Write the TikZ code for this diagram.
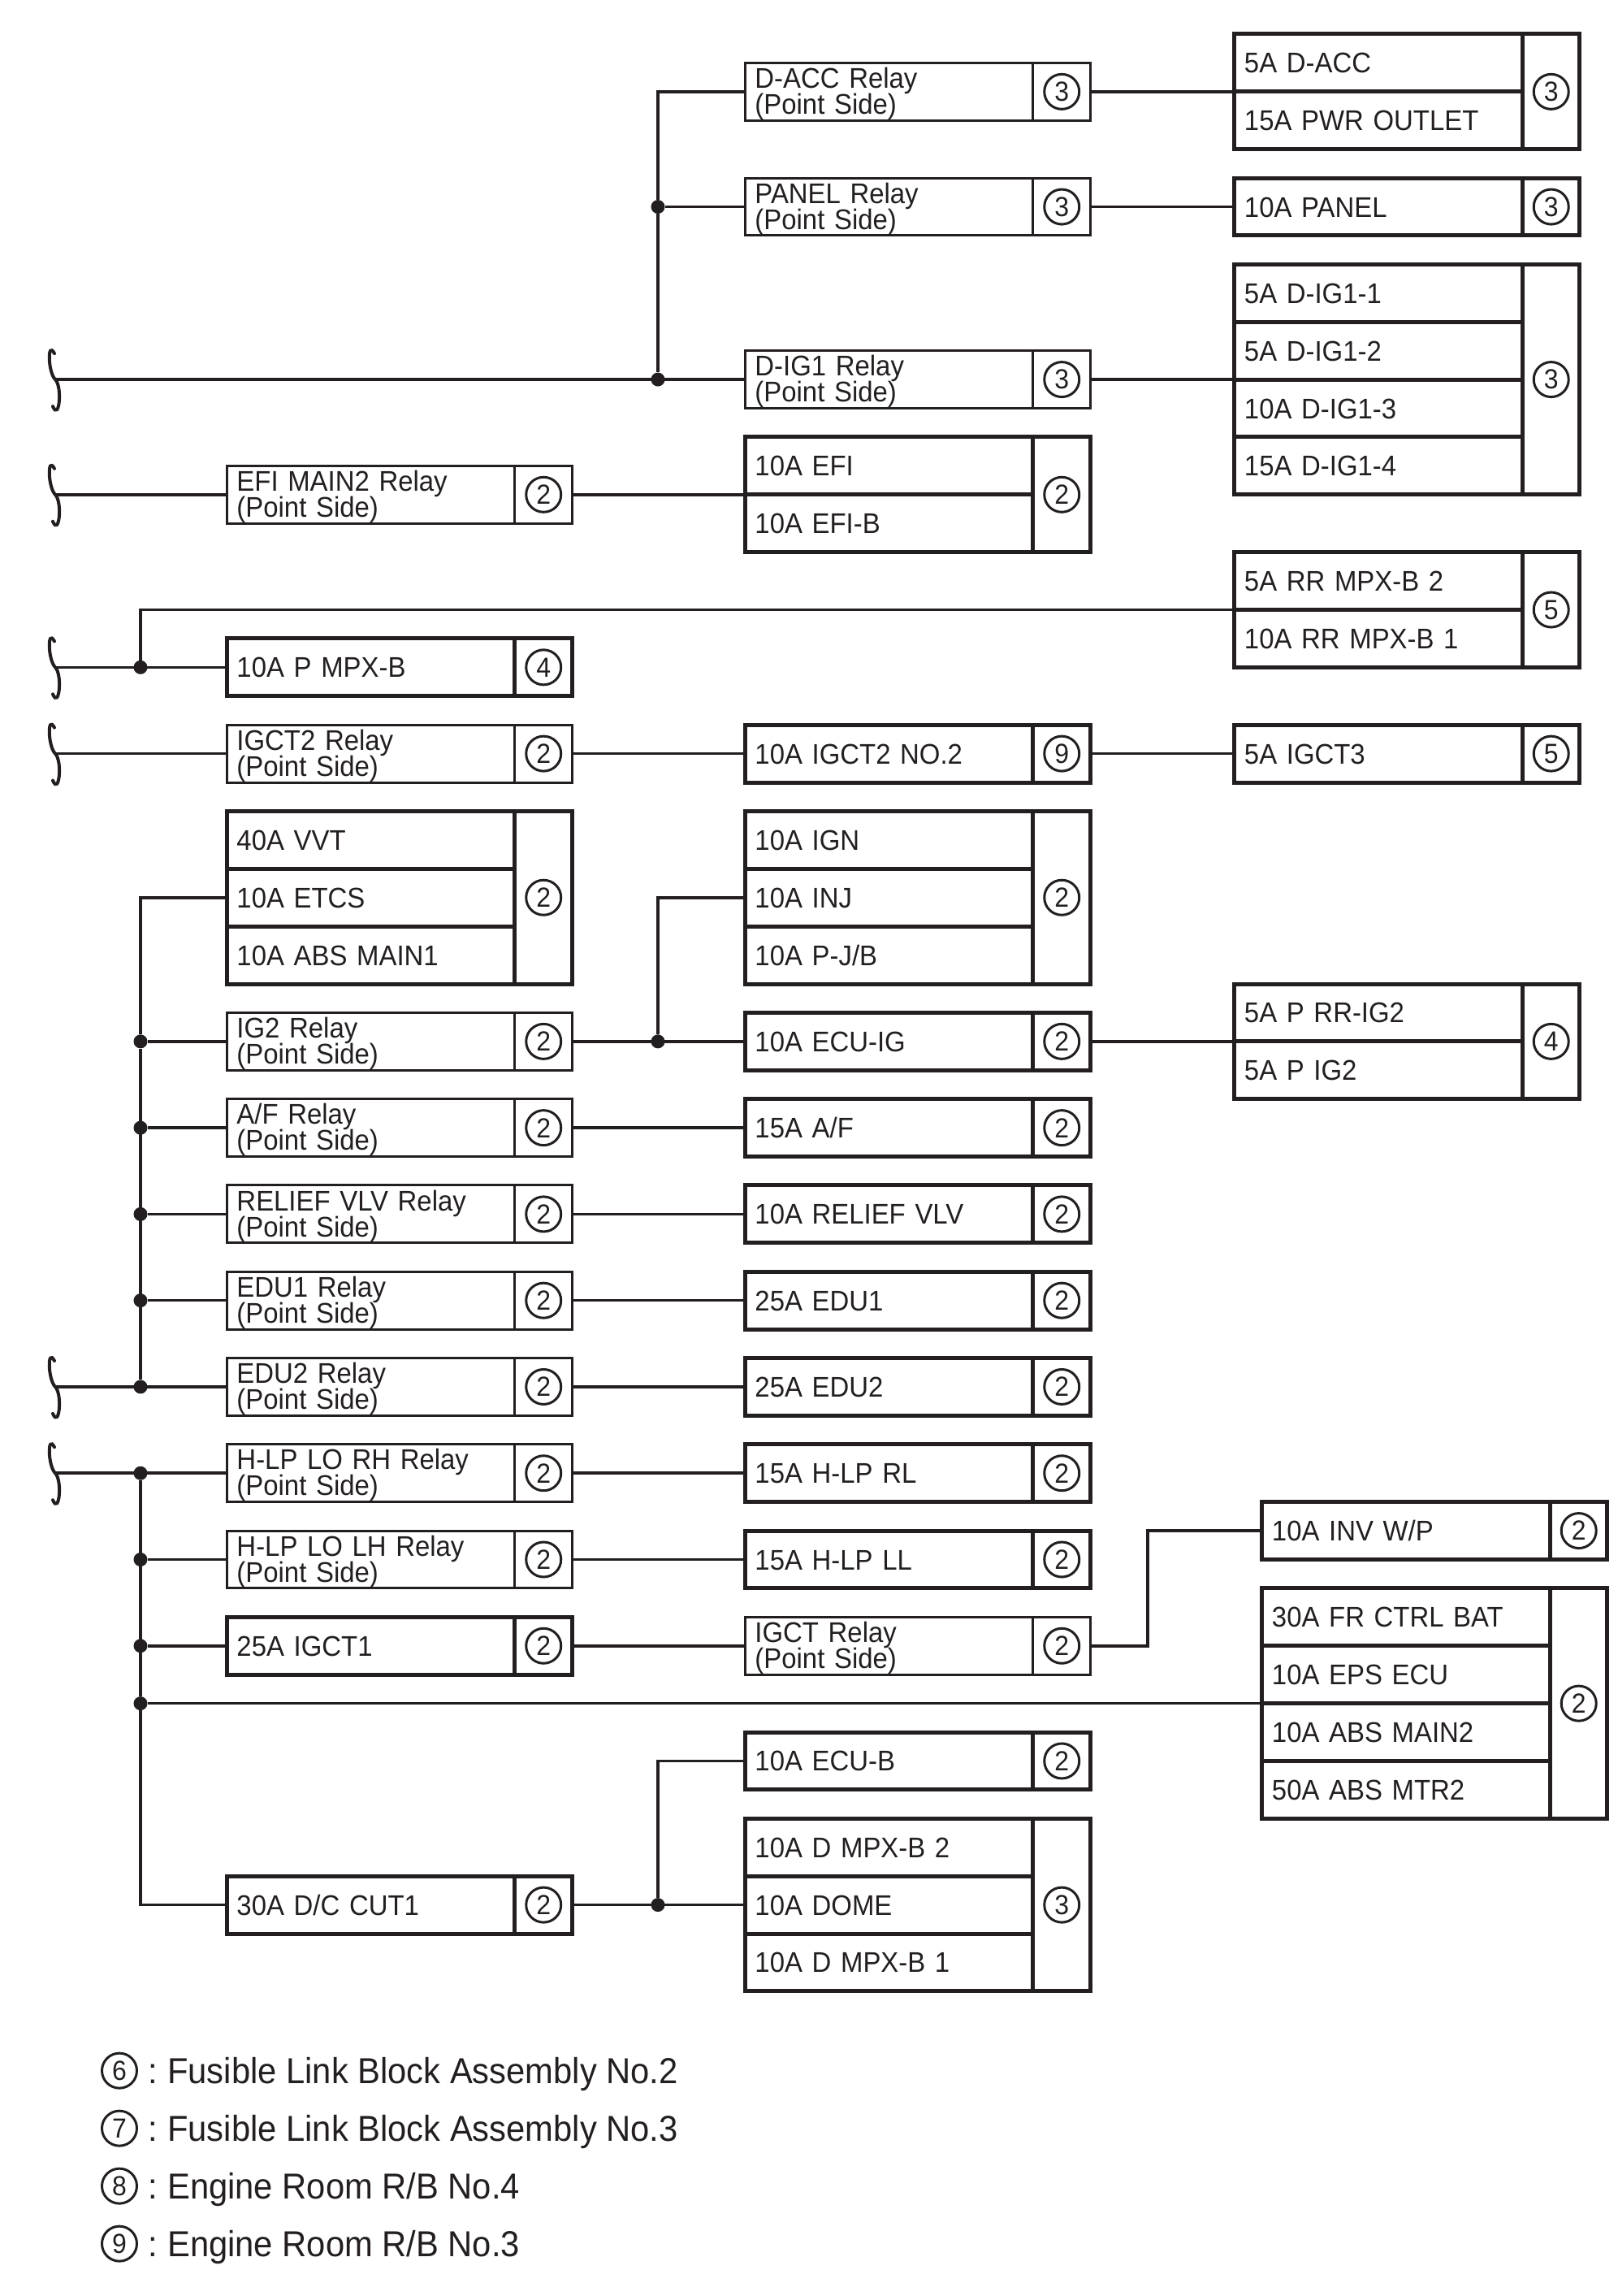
\documentclass[tikz,border=0pt]{standalone}
\usepackage{fontspec}
\setmainfont{Liberation Sans}
\newfontfamily\narrowfont[FakeStretch=0.94]{Liberation Sans}
\newcommand{\cellfont}{\narrowfont\fontsize{35}{32}\selectfont\lineskiplimit=-30pt\relax}
\usepackage{xcolor}
\usetikzlibrary{positioning}
\definecolor{Ink}{HTML}{231F20}
\def\colA{279.5}
\def\colB{917.5}
\def\colC{1520}
\def\colD{1554}
\def\rowh{70.85pt}
\begin{document}
\begin{tikzpicture}[
      x=1pt, y=-70.85pt,
      cellbase/.style={
        rectangle, draw=Ink, text=Ink, outer sep=0pt, inner xsep=12pt, inner ysep=0pt,
        minimum height=\rowh, align=left, text width=330.5pt, anchor=west,
        font=\cellfont
      },
      relay/.style={cellbase, line width=3pt, text height=25pt, text depth=33.5pt},
      fuse/.style={cellbase, line width=5pt, text height=25pt, text depth=0pt},
      tagbase/.style={rectangle, draw=Ink, outer sep=0pt, inner sep=0pt, minimum width=70.5pt, minimum height=\rowh},
      relaytag/.style={tagbase, line width=3pt},
      fusetag/.style={tagbase, line width=5pt},
      circ/.style={
        circle, draw=Ink, text=Ink, line width=3pt, inner sep=0pt, minimum size=43pt,
        font=\narrowfont\fontsize{34}{34}\selectfont
      },
      wire/.style={draw=Ink, line width=3.6pt},
      brk/.style={draw=Ink, line width=4pt, line cap=round},
      dot/.style={circle, fill=Ink, inner sep=0pt, minimum size=17pt},
      legtext/.style={text=Ink, inner sep=0pt, anchor=west, text height=31pt, text depth=0pt, font=\narrowfont\fontsize{44.4}{45}\selectfont}
    ]
      \useasboundingbox (0,-0.5928) rectangle (1992,39.295);
      % relays
      \foreach \id/\xx/\yy/\txt/\n in {
        dacc/\colB/1/D-ACC Relay/3, panel/\colB/3/PANEL Relay/3, dig/\colB/6/D-IG1 Relay/3,
        igctr/\colB/28/IGCT Relay/2, efim/\colA/8/EFI MAIN2 Relay/2, igcta/\colA/12.5/IGCT2 Relay/2,
        igb/\colA/17.5/IG2 Relay/2, af/\colA/19/{A/F Relay}/2, relief/\colA/20.5/RELIEF VLV Relay/2,
        edua/\colA/22/EDU1 Relay/2, edub/\colA/23.5/EDU2 Relay/2,
        hlprh/\colA/25/H-LP LO RH Relay/2, hlplh/\colA/26.5/H-LP LO LH Relay/2}{
        \node[relay] (\id) at (\xx,\yy) {\txt\\(Point Side)};
        \node[relaytag, right=0pt of \id, label={[circ]center:\n}] (\id tag) {};
      }
      % single fuses
      \foreach \id/\xx/\yy/\txt/\n in {
        panelf/\colC/3/10A PANEL/3, igctc/\colC/12.5/5A IGCT3/5,
        pmpx/\colA/11/10A P MPX-B/4, igcto/\colA/28/25A IGCT1/2, dccut/\colA/32.5/{30A D/C CUT1}/2,
        igctf/\colB/12.5/10A IGCT2 NO.2/9, ecuig/\colB/17.5/10A ECU-IG/2, aff/\colB/19/{15A A/F}/2,
        relieff/\colB/20.5/10A RELIEF VLV/2, eduaf/\colB/22/25A EDU1/2, edubf/\colB/23.5/25A EDU2/2,
        hlprl/\colB/25/15A H-LP RL/2, hlpll/\colB/26.5/15A H-LP LL/2, ecub/\colB/30/10A ECU-B/2,
        invwp/\colD/26/{10A INV W/P}/2}{
        \node[fuse] (\id) at (\xx,\yy) {\txt};
        \node[fusetag, right=0pt of \id, label={[circ]center:\n}] (\id tag) {};
      }
      % fuse stacks
      \node[fuse, anchor=north west] (daccf) at (\colC,0) {5A D-ACC};
      \node[fuse, below=0pt of daccf] (pwr) {15A PWR OUTLET};
      \node[fusetag, anchor=north west, minimum height=2*\rowh, label={[circ]center:3}] (daccftag) at (daccf.north east) {};

      \node[fuse, anchor=north west] (diga) at (\colC,4) {5A D-IG1-1};
      \node[fuse, below=0pt of diga] (digb) {5A D-IG1-2};
      \node[fuse, below=0pt of digb] (digc) {10A D-IG1-3};
      \node[fuse, below=0pt of digc] (digd) {15A D-IG1-4};
      \node[fusetag, anchor=north west, minimum height=4*\rowh, label={[circ]center:3}] (digatag) at (diga.north east) {};

      \node[fuse, anchor=north west] (efi) at (\colB,7) {10A EFI};
      \node[fuse, below=0pt of efi] (efib) {10A EFI-B};
      \node[fusetag, anchor=north west, minimum height=2*\rowh, label={[circ]center:2}] (efitag) at (efi.north east) {};

      \node[fuse, anchor=north west] (rrb) at (\colC,9) {5A RR MPX-B 2};
      \node[fuse, below=0pt of rrb] (rra) {10A RR MPX-B 1};
      \node[fusetag, anchor=north west, minimum height=2*\rowh, label={[circ]center:5}] (rrbtag) at (rrb.north east) {};

      \node[fuse, anchor=north west] (vvt) at (\colA,13.5) {40A VVT};
      \node[fuse, below=0pt of vvt] (etcs) {10A ETCS};
      \node[fuse, below=0pt of etcs] (absa) {10A ABS MAIN1};
      \node[fusetag, anchor=north west, minimum height=3*\rowh, label={[circ]center:2}] (vvttag) at (vvt.north east) {};

      \node[fuse, anchor=north west] (ign) at (\colB,13.5) {10A IGN};
      \node[fuse, below=0pt of ign] (inj) {10A INJ};
      \node[fuse, below=0pt of inj] (pjb) {10A P-J/B};
      \node[fusetag, anchor=north west, minimum height=3*\rowh, label={[circ]center:2}] (igntag) at (ign.north east) {};

      \node[fuse, anchor=north west] (rrig) at (\colC,16.5) {5A P RR-IG2};
      \node[fuse, below=0pt of rrig] (pig) {5A P IG2};
      \node[fusetag, anchor=north west, minimum height=2*\rowh, label={[circ]center:4}] (rrigtag) at (rrig.north east) {};

      \node[fuse, anchor=north west] (frbat) at (\colD,27) {30A FR CTRL BAT};
      \node[fuse, below=0pt of frbat] (eps) {10A EPS ECU};
      \node[fuse, below=0pt of eps] (absb) {10A ABS MAIN2};
      \node[fuse, below=0pt of absb] (absm) {50A ABS MTR2};
      \node[fusetag, anchor=north west, minimum height=4*\rowh, label={[circ]center:2}] (frbattag) at (frbat.north east) {};

      \node[fuse, anchor=north west] (dmpxb) at (\colB,31) {10A D MPX-B 2};
      \node[fuse, below=0pt of dmpxb] (dome) {10A DOME};
      \node[fuse, below=0pt of dome] (dmpxa) {10A D MPX-B 1};
      \node[fusetag, anchor=north west, minimum height=3*\rowh, label={[circ]center:3}] (dmpxbtag) at (dmpxb.north east) {};

      % line breaks
      \foreach \b/\yy in {brdig/6, brefi/8, brmpx/11, brigct/12.5, bredu/23.5, brhlp/25}{
        \coordinate (\b) at (68,\yy);
        \draw[brk] (\b) +(-1pt,32pt) .. controls +(-9pt,17pt) and +(-9pt,9pt) .. +(0pt,0pt)
          .. controls +(9pt,-9pt) and +(8pt,-19pt) .. +(-3pt,-33pt);
      }
      % junctions
      \foreach \j/\xx/\yy in {
        jdig/810/6, jpanel/810/3, jmpx/173/11, jecu/810/17.5, jdome/810/32.5,
        jedub/173/23.5, jedua/173/22, jrelief/173/20.5, jaf/173/19, jig/173/17.5,
        jhlprh/173/25, jhlplh/173/26.5, jigct/173/28, jfr/173/29}{
        \node[dot] (\j) at (\xx,\yy) {};
      }
      % wires
      \foreach \a/\b in {
        brdig/dig.west, brefi/efim.west, brmpx/pmpx.west, brigct/igcta.west, bredu/edub.west, brhlp/hlprh.west,
        jpanel/panel.west, jaf/af.west, jrelief/relief.west, jedua/edua.west, jig/igb.west,
        jhlplh/hlplh.west, jigct/igcto.west, jfr/eps.south west, jecu/ecuig.west, jdome/dome.west,
        dacctag/daccf.south west, paneltag/panelf.west, digtag/digb.south west, efimtag/efi.south west,
        igctatag/igctf.west, igctftag/igctc.west, igbtag/ecuig.west, ecuigtag/rrig.south west,
        aftag/aff.west, relieftag/relieff.west, eduatag/eduaf.west, edubtag/edubf.west,
        hlprhtag/hlprl.west, hlplhtag/hlpll.west, igctotag/igctr.west, dccuttag/dome.west}{
        \draw[wire] (\a) -- (\b);
      }
      \draw[wire] (jdig) -- (jpanel) |- (dacc.west);
      \draw[wire] (jmpx) |- (rrb.south west);
      \draw[wire] (jedub) -- (jig) |- (etcs.west);
      \draw[wire] (jhlprh) -- (jfr) |- (dccut.west);
      \draw[wire] (jecu) |- (inj.west);
      \draw[wire] (jdome) |- (ecub.west);
      \coordinate (bend) at (1413,27);
      \draw[wire] (igctrtag.east) -| (bend) |- (invwp.west);
      % legend
      \node[circ] (lega) at (147,35.38) {6};
      \node[circ, below=25pt of lega] (legb) {7};
      \node[circ, below=25pt of legb] (legc) {8};
      \node[circ, below=25pt of legc] (legd) {9};
      \node[legtext, right=12pt of lega] (legatxt) {:\hspace{-3pt} Fusible Link Block Assembly No.2};
      \node[legtext, right=12pt of legb] (legbtxt) {:\hspace{-3pt} Fusible Link Block Assembly No.3};
      \node[legtext, right=12pt of legc] (legctxt) {:\hspace{-3pt} Engine Room R/B No.4};
      \node[legtext, right=12pt of legd] (legdtxt) {:\hspace{-3pt} Engine Room R/B No.3};
    \end{tikzpicture}
\end{document}
